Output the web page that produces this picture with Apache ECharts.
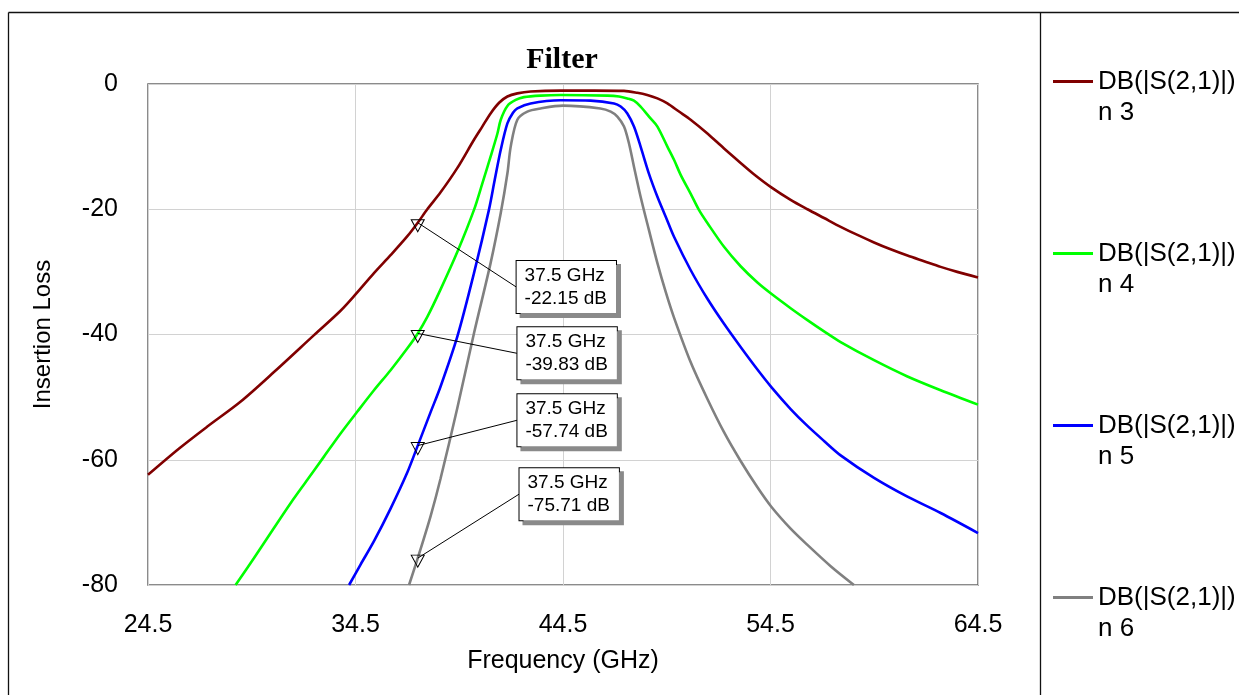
<!DOCTYPE html>
<html>
<head>
<meta charset="utf-8">
<script src="https://cdn.jsdelivr.net/npm/echarts@6/dist/echarts.min.js"></script>
<style>
html,body{margin:0;padding:0;background:#fff;}
#chart{width:1239px;height:695px;}
</style>
</head>
<body>
<div id="chart"></div>
<script>
// ---- Data ----
const seriesNames = ['n 3', 'n 4', 'n 5', 'n 6'];
const traceLabel = 'DB(|S(2,1)|)';

const n3Freq = [24.5, 26.0, 27.36, 28.97, 30.57, 32.5, 33.78, 34.5, 35.39, 36.2, 37.0, 37.5, 37.96, 38.6, 39.41, 40.21, 40.61, 41.01, 41.42, 41.82, 42.3, 42.94, 44.39, 46.0, 47.44, 48.08, 48.56, 49.05, 49.53, 50.09, 50.65, 51.46, 52.26, 53.06, 53.7, 54.54, 55.47, 56.28, 57.08, 57.88, 58.69, 59.49, 60.29, 61.1, 61.9, 62.7, 63.5, 64.5];
const n3Db = [-62.4, -58.2, -54.7, -50.7, -46.0, -40.1, -36.2, -33.6, -30.2, -27.3, -24.3, -22.15, -20.0, -17.3, -13.4, -8.9, -6.8, -4.7, -3.0, -2.0, -1.5, -1.2, -1.06, -1.06, -1.1, -1.4, -1.75, -2.3, -3.1, -4.4, -5.7, -7.9, -10.3, -12.6, -14.4, -16.5, -18.5, -20.0, -21.4, -22.8, -24.1, -25.3, -26.4, -27.4, -28.3, -29.2, -30.0, -30.9];

const n4Freq = [28.72, 29.61, 30.57, 31.38, 32.18, 32.98, 33.78, 34.59, 35.39, 36.19, 37.0, 37.5, 37.96, 38.6, 39.41, 40.21, 40.61, 41.01, 41.34, 41.5, 41.82, 42.22, 42.62, 43.42, 44.39, 46.64, 47.2, 47.6, 47.92, 48.24, 48.72, 49.05, 49.53, 49.85, 50.17, 50.65, 51.05, 51.46, 52.26, 53.06, 53.87, 54.54, 55.47, 56.28, 57.08, 57.88, 59.49, 61.1, 62.7, 64.5];
const n4Db = [-80, -75.7, -70.9, -66.9, -63.2, -59.5, -55.8, -52.3, -48.9, -45.7, -42.2, -39.83, -37.2, -32.8, -26.8, -20.1, -15.9, -11.6, -7.9, -5.7, -3.5, -2.55, -2.1, -1.85, -1.76, -1.86, -2.0, -2.3, -2.65, -3.6, -5.5, -6.8, -10.0, -12.1, -14.5, -17.5, -20.1, -22.2, -26.0, -29.1, -31.7, -33.5, -35.8, -37.7, -39.5, -41.2, -44.1, -46.7, -48.9, -51.2];

const n5Freq = [34.19, 34.75, 35.39, 36.19, 37.0, 37.5, 38.12, 38.6, 39.41, 40.21, 40.93, 41.21, 41.5, 41.82, 42.09, 42.3, 42.94, 44.39, 45.83, 46.96, 47.28, 47.6, 47.92, 48.24, 48.64, 49.05, 49.45, 49.85, 50.65, 51.46, 52.26, 53.06, 53.87, 54.54, 55.47, 56.28, 57.08, 57.88, 59.49, 61.1, 62.7, 64.5];
const n5Db = [-80, -76.7, -73.0, -67.8, -62.0, -57.74, -52.4, -48.3, -40.3, -30.2, -20.1, -15.3, -10.5, -6.3, -4.6, -3.9, -3.1, -2.6, -2.66, -3.1, -3.6, -4.7, -6.8, -10.0, -14.3, -18.0, -21.2, -24.4, -29.7, -34.3, -38.3, -42.0, -45.6, -48.4, -51.9, -54.6, -57.0, -59.3, -62.9, -65.9, -68.5, -71.7];

const n6Freq = [37.08, 37.5, 38.12, 38.6, 39.41, 40.21, 41.01, 41.5, 41.82, 41.98, 42.3, 42.78, 43.42, 44.5, 46.3, 46.8, 47.12, 47.44, 47.68, 47.92, 48.24, 48.64, 49.05, 49.45, 49.85, 50.65, 51.46, 52.26, 53.06, 53.87, 54.54, 55.47, 56.28, 57.4, 58.52];
const n6Db = [-80, -75.71, -69.0, -63.0, -51.7, -39.8, -28.6, -20.6, -14.3, -10.0, -5.7, -4.4, -3.9, -3.46, -3.9, -4.4, -5.2, -6.8, -9.5, -13.2, -18.0, -23.3, -28.6, -33.2, -37.3, -44.4, -50.3, -55.6, -60.2, -64.4, -67.5, -71.0, -73.6, -77.0, -80];

// Markers at 37.5 GHz
const markerFreq = 37.5;
const markerDb = [-22.15, -39.83, -57.74, -75.71];

// Axis ticks
const xMin = 24.5, xMax = 64.5, xStep = 10;
const yMin = -80, yMax = 0, yStep = 20;

// ---- Placement of the marker callouts (data coordinates of each box's left-middle point) ----
const calloutFreq = [42.24, 42.28, 42.28, 42.38];
const calloutDb = [-32.4, -43.0, -53.7, -65.5];

const colors = ['#800000', '#00ff00', '#0000ff', '#808080'];
const freqs = [n3Freq, n4Freq, n5Freq, n6Freq];
const dbs = [n3Db, n4Db, n5Db, n6Db];

const FONT = '"Liberation Sans", Arial, sans-serif';

const chart = echarts.init(document.getElementById('chart'), null, {renderer: 'canvas'});

const curveSeries = seriesNames.map((name, i) => ({
  name: name,
  type: 'line',
  data: freqs[i].map((f, k) => [f, dbs[i][k]]),
  showSymbol: false,
  symbol: 'none',
  smooth: 0.3,
  clip: true,
  lineStyle: {color: colors[i], width: 2.6},
  itemStyle: {color: colors[i]},
  z: 3
}));

const markerSeries = {
  name: 'markers',
  type: 'scatter',
  data: markerDb.map(v => [markerFreq, v]),
  symbol: 'triangle',
  symbolRotate: 180,
  symbolSize: [13, 12],
  symbolOffset: [0, 3],
  itemStyle: {color: 'rgba(255,255,255,0)', borderColor: '#000', borderWidth: 1, opacity: 1},
  silent: true,
  z: 5
};

const calloutSeries = {
  name: 'callouts',
  type: 'scatter',
  data: calloutFreq.map((f, i) => ({value: [f, calloutDb[i]], mv: markerDb[i]})),
  symbolSize: 1,
  itemStyle: {color: 'rgba(0,0,0,0)', opacity: 1},
  silent: true,
  z: 6,
  label: {
    show: true,
    position: 'right',
    distance: 0,
    opacity: 1,
    formatter: p => markerFreq.toFixed(1) + ' GHz\n' + p.data.mv.toFixed(2) + ' dB',
    fontFamily: FONT,
    fontSize: 19,
    lineHeight: 23,
    color: '#000',
    align: 'left',
    backgroundColor: '#ffffff',
    borderColor: '#000',
    borderWidth: 1,
    padding: [3, 9, 3, 8],
    shadowColor: '#8a8a8a',
    shadowOffsetX: 4,
    shadowOffsetY: 4,
    shadowBlur: 0
  },
  markLine: {
    silent: true,
    animation: false,
    symbol: ['none', 'none'],
    label: {show: false},
    lineStyle: {color: '#000', width: 1, type: 'solid', opacity: 1},
    emphasis: {disabled: true},
    data: markerDb.map((v, i) => [
      {coord: [markerFreq, v]},
      {coord: [calloutFreq[i], calloutDb[i]]}
    ])
  }
};

const option = {
  animation: false,
  backgroundColor: '#fff',
  title: {
    text: 'Filter',
    left: 557,
    top: 40,
    textAlign: 'center',
    textStyle: {fontFamily: '"Liberation Serif", "Times New Roman", serif', fontWeight: 'bold', fontSize: 30, color: '#000'}
  },
  legend: {
    data: seriesNames,
    orient: 'vertical',
    left: 1048,
    top: 30,
    itemGap: 79,
    itemWidth: 40,
    itemHeight: 3,
    icon: 'rect',
    selectedMode: false,
    formatter: name => '\n' + traceLabel + '\n' + name,
    textStyle: {fontFamily: FONT, fontSize: 26, lineHeight: 31, color: '#000'}
  },
  grid: {
    left: 148, right: 261, top: 84, bottom: 110,
    show: true,
    borderColor: '#666666',
    borderWidth: 1.5,
    backgroundColor: 'rgba(0,0,0,0)'
  },
  xAxis: {
    type: 'value',
    min: xMin, max: xMax, interval: xStep,
    name: 'Frequency (GHz)',
    nameLocation: 'middle',
    nameGap: 64,
    nameTextStyle: {fontFamily: FONT, fontSize: 25, color: '#000'},
    axisLine: {show: false},
    axisTick: {show: false},
    axisLabel: {fontFamily: FONT, fontSize: 25, color: '#000', margin: 28, formatter: v => v.toFixed(1)},
    splitLine: {show: true, lineStyle: {color: '#d2d2d2', width: 1}}
  },
  yAxis: {
    type: 'value',
    min: yMin, max: yMax, interval: yStep,
    name: 'Insertion Loss',
    nameLocation: 'middle',
    nameGap: 93,
    nameTextStyle: {fontFamily: FONT, fontSize: 24, color: '#000'},
    axisLine: {show: false},
    axisTick: {show: false},
    axisLabel: {fontFamily: FONT, fontSize: 25, color: '#000', margin: 30},
    splitLine: {show: true, lineStyle: {color: '#d2d2d2', width: 1}}
  },
  graphic: [
    {type: 'line', silent: true, shape: {x1: 8.5, y1: 12.5, x2: 1239, y2: 12.5}, style: {stroke: '#111', lineWidth: 1.3}},
    {type: 'line', silent: true, shape: {x1: 8.5, y1: 12.5, x2: 8.5, y2: 695}, style: {stroke: '#111', lineWidth: 1.3}},
    {type: 'line', silent: true, shape: {x1: 1040.5, y1: 12.5, x2: 1040.5, y2: 695}, style: {stroke: '#111', lineWidth: 1.3}}
  ],
  series: curveSeries.concat([markerSeries, calloutSeries])
};

chart.setOption(option);
</script>
</body>
</html>
